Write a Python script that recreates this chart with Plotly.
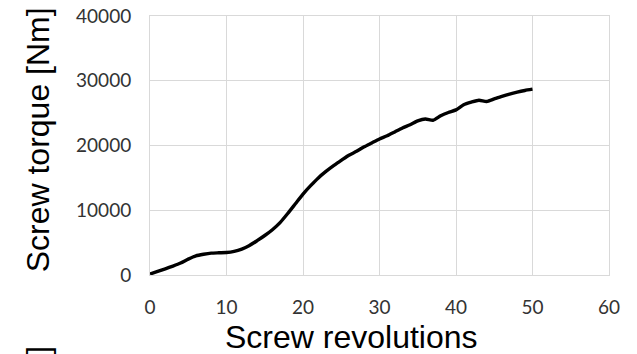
import plotly.graph_objects as go

# Screw revolutions vs. screw torque (Nm)
revolutions = list(range(0, 51))
torque = [
    150, 550, 950, 1380, 1850, 2450, 2950, 3200, 3380, 3430,
    3470, 3650, 4000, 4550, 5300, 6100, 7000, 8100, 9500, 11000,
    12500, 13800, 15000, 16000, 16900, 17700, 18500, 19100, 19800, 20400,
    21000, 21500, 22100, 22700, 23200, 23800, 24100, 23900, 24600, 25100,
    25500, 26300, 26700, 27000, 26800, 27200, 27600, 27950, 28250, 28500,
    28700,
]

x_ticks = [0, 10, 20, 30, 40, 50, 60]
y_ticks = [0, 10000, 20000, 30000, 40000]

grid = "#d9d9d9"
tick_font = dict(family="Lato, Open Sans, sans-serif", size=19, color="#333333")
title_font = dict(family="Liberation Sans, Arial, sans-serif", size=32, color="#000000")

fig = go.Figure()
fig.add_trace(go.Scatter(
    x=revolutions, y=torque, mode="lines",
    line=dict(color="#000000", width=3.4, shape="spline", smoothing=0.6),
    hoverinfo="skip", showlegend=False,
))

fig.update_xaxes(
    range=[0, 60], tickvals=x_ticks, ticktext=[str(v) for v in x_ticks],
    showgrid=True, gridcolor=grid, gridwidth=1,
    showline=True, linecolor=grid, linewidth=1, mirror=True,
    zeroline=False, ticks="", tickfont=tick_font, ticklabelstandoff=15,
    automargin=False,
)
fig.update_yaxes(
    range=[0, 40000], tickvals=y_ticks, ticktext=[str(v) for v in y_ticks],
    showgrid=True, gridcolor=grid, gridwidth=1,
    showline=True, linecolor=grid, linewidth=1, mirror=True,
    zeroline=False, ticks="", tickfont=tick_font, ticklabelstandoff=14,
    automargin=False,
)

fig.add_annotation(
    text="Screw revolutions", xref="paper", yref="paper",
    x=0.44, y=-0.318, xanchor="center", yanchor="bottom",
    showarrow=False, font=title_font,
)
fig.add_annotation(
    text="Screw torque [Nm]", xref="paper", yref="paper",
    x=-0.244, y=0.52, xanchor="center", yanchor="middle",
    textangle=-90, showarrow=False, font=title_font,
)
# label of the adjacent panel below, cut off at the page edge
fig.add_annotation(
    text="[Nm]", xref="paper", yref="paper",
    x=-0.244, y=-0.264, xanchor="center", yanchor="top",
    textangle=-90, showarrow=False, font=title_font,
)

fig.update_layout(
    width=637, height=354,
    margin=dict(l=150, r=28, t=16, b=79, autoexpand=False),
    paper_bgcolor="#ffffff", plot_bgcolor="#ffffff",
)

fig.write_html("out.html")
